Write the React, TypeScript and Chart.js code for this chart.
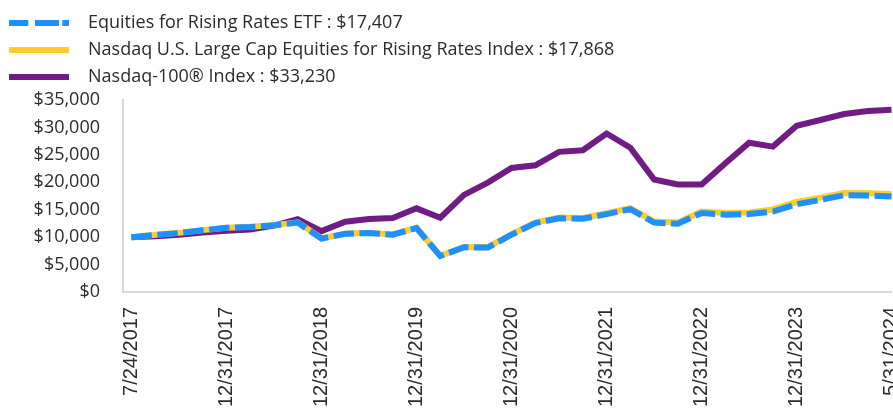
import React, { useEffect, useRef } from 'react';
import { Chart, registerables } from 'chart.js';

Chart.register(...registerables);

const categories = [
  '7/24/2017', '8/31/2017', '9/30/2017', '11/30/2017', '12/31/2017',
  '3/31/2018', '6/30/2018', '9/30/2018', '12/31/2018',
  '3/31/2019', '6/30/2019', '9/30/2019', '12/31/2019',
  '3/31/2020', '6/30/2020', '9/30/2020', '12/31/2020',
  '3/31/2021', '6/30/2021', '9/30/2021', '12/31/2021',
  '3/31/2022', '6/30/2022', '9/30/2022', '12/31/2022',
  '3/31/2023', '6/30/2023', '9/30/2023', '12/31/2023',
  '2/29/2024', '3/31/2024', '4/30/2024', '5/31/2024',
];

const xTickLabels = [
  '7/24/2017', '12/31/2017', '12/31/2018', '12/31/2019', '12/31/2020',
  '12/31/2021', '12/31/2022', '12/31/2023', '5/31/2024',
];

const seriesNames = [
  'Equities for Rising Rates ETF : $17,407',
  'Nasdaq U.S. Large Cap Equities for Rising Rates Index : $17,868',
  'Nasdaq-100\u00AE Index : $33,230',
];

const etfValues = [
  10000, 10400, 10750, 11250, 11700, 11850, 12150, 12650, 9750,
  10600, 10750, 10450, 11650, 6550, 8150, 8100, 10450,
  12550, 13450, 13350, 14200, 15100, 12650, 12450, 14400,
  14100, 14200, 14650, 16000, 16800, 17650, 17600, 17407,
];

const indexValues = [
  10000, 10420, 10780, 11280, 11730, 11880, 12190, 12700, 9780,
  10640, 10800, 10500, 11720, 6600, 8220, 8180, 10540,
  12670, 13580, 13490, 14360, 15300, 12850, 12680, 14650,
  14380, 14500, 15050, 16400, 17200, 18050, 18000, 17868,
];

const nasdaqValues = [
  10000, 10150, 10450, 10850, 11150, 11400, 12100, 13250, 11100,
  12800, 13300, 13500, 15250, 13550, 17700, 19950, 22600,
  23100, 25550, 25850, 28900, 26300, 20500, 19600, 19600,
  23450, 27200, 26500, 30300, 31350, 32450, 33000, 33230,
];

const yMin = 0;
const yMax = 35000;
const yStep = 5000;

const BLUE = '#1E90FF';
const YELLOW = '#FFCC29';
const PURPLE = '#711C84';
const AXIS = '#d9d9d9';
const TEXT = '#2b2b2b';
const UI_FONT = '"Open Sans", "Noto Sans", sans-serif';

function makeSwatch(color: string, segments: number[][]) {
  const c = document.createElement('canvas');
  c.width = 70;
  c.height = 6;
  const g = c.getContext('2d')!;
  g.fillStyle = color;
  segments.forEach(([a, b]) => g.fillRect(a, 0, b - a, 6));
  return c;
}

const legendHeightPlugin = {
  id: 'legendHeightFix',
  beforeUpdate(chart: any) {
    const lg = chart.legend;
    if (lg && !lg.__patched) {
      const orig = lg.fit;
      lg.fit = function () {
        orig.call(this);
        this.height = 95.5;
      };
      lg.__patched = true;
    }
  },
};

export default function App() {
  const ref = useRef<HTMLCanvasElement>(null);

  useEffect(() => {
    const swatches = [
      makeSwatch(BLUE, [[0, 19.3], [26, 50], [53.3, 60]]),
      makeSwatch(YELLOW, [[0, 60]]),
      makeSwatch(PURPLE, [[0, 60]]),
    ];
    const tickIdx = categories
      .map((c, i) => (xTickLabels.includes(c) ? i : -1))
      .filter((i) => i >= 0);

    const toPts = (arr: number[]) => arr.map((y, i) => ({ x: i, y }));

    const chart = new Chart(ref.current!, {
      type: 'line',
      data: {
        datasets: [
          {
            label: seriesNames[0],
            data: toPts(etfValues),
            borderColor: BLUE,
            backgroundColor: BLUE,
            borderWidth: 6,
            borderDash: [20.5, 5.5],
            pointRadius: 0,
            tension: 0,
            fill: false,
          },
          {
            label: seriesNames[1],
            data: toPts(indexValues),
            borderColor: YELLOW,
            backgroundColor: YELLOW,
            borderWidth: 6,
            pointRadius: 0,
            tension: 0,
            fill: false,
          },
          {
            label: seriesNames[2],
            data: toPts(nasdaqValues),
            borderColor: PURPLE,
            backgroundColor: PURPLE,
            borderWidth: 6,
            pointRadius: 0,
            tension: 0,
            fill: false,
          },
        ],
      },
      options: {
        animation: false,
        responsive: true,
        maintainAspectRatio: false,
        layout: { padding: { top: 4.5, left: 0, right: 1.3, bottom: 0 } },
        plugins: {
          tooltip: { enabled: false },
          legend: {
            position: 'top',
            align: 'start',
            labels: {
              usePointStyle: true,
              pointStyleWidth: 70,
              padding: 9,
              color: TEXT,
              font: { family: UI_FONT, size: 18 },
              generateLabels: (c: any) =>
                (Chart.defaults.plugins.legend.labels as any)
                  .generateLabels(c)
                  .map((it: any, i: number) => ({ ...it, pointStyle: swatches[i] })),
            },
          },
        },
        scales: {
          x: {
            type: 'linear',
            min: -0.354,
            max: categories.length - 1,
            grid: { display: false, drawTicks: false },
            border: { display: true, color: AXIS, width: 2 },
            ticks: {
              autoSkip: false,
              minRotation: 90,
              maxRotation: 90,
              padding: 15,
              color: TEXT,
              font: { family: '"Liberation Sans", Arial, sans-serif', size: 20 },
              callback: (v: any) => categories[Math.round(Number(v))] ?? '',
            },
            afterBuildTicks: (s: any) => {
              s.ticks = tickIdx.map((v) => ({ value: v }));
            },
            afterFit: (s: any) => {
              s.height = 118;
              s.paddingLeft = 0;
              s.paddingRight = 0;
            },
          },
          y: {
            min: yMin,
            max: yMax,
            grid: { display: false, drawTicks: false },
            border: { display: true, color: AXIS, width: 2 },
            ticks: {
              stepSize: yStep,
              padding: 23,
              color: TEXT,
              font: { family: UI_FONT, size: 18 },
              callback: (v: any) => '$' + Number(v).toLocaleString('en-US'),
            },
            afterFit: (s: any) => {
              s.width = 123;
            },
          },
        },
      } as any,
      plugins: [legendHeightPlugin],
    });
    return () => chart.destroy();
  }, []);

  return (
    <div
      style={{
        position: 'fixed',
        left: 0,
        top: 0,
        width: 893,
        height: 410,
        overflow: 'hidden',
        background: '#fff',
      }}
    >
      <div style={{ position: 'relative', width: 893, height: 410 }}>
        <canvas ref={ref} />
      </div>
    </div>
  );
}
